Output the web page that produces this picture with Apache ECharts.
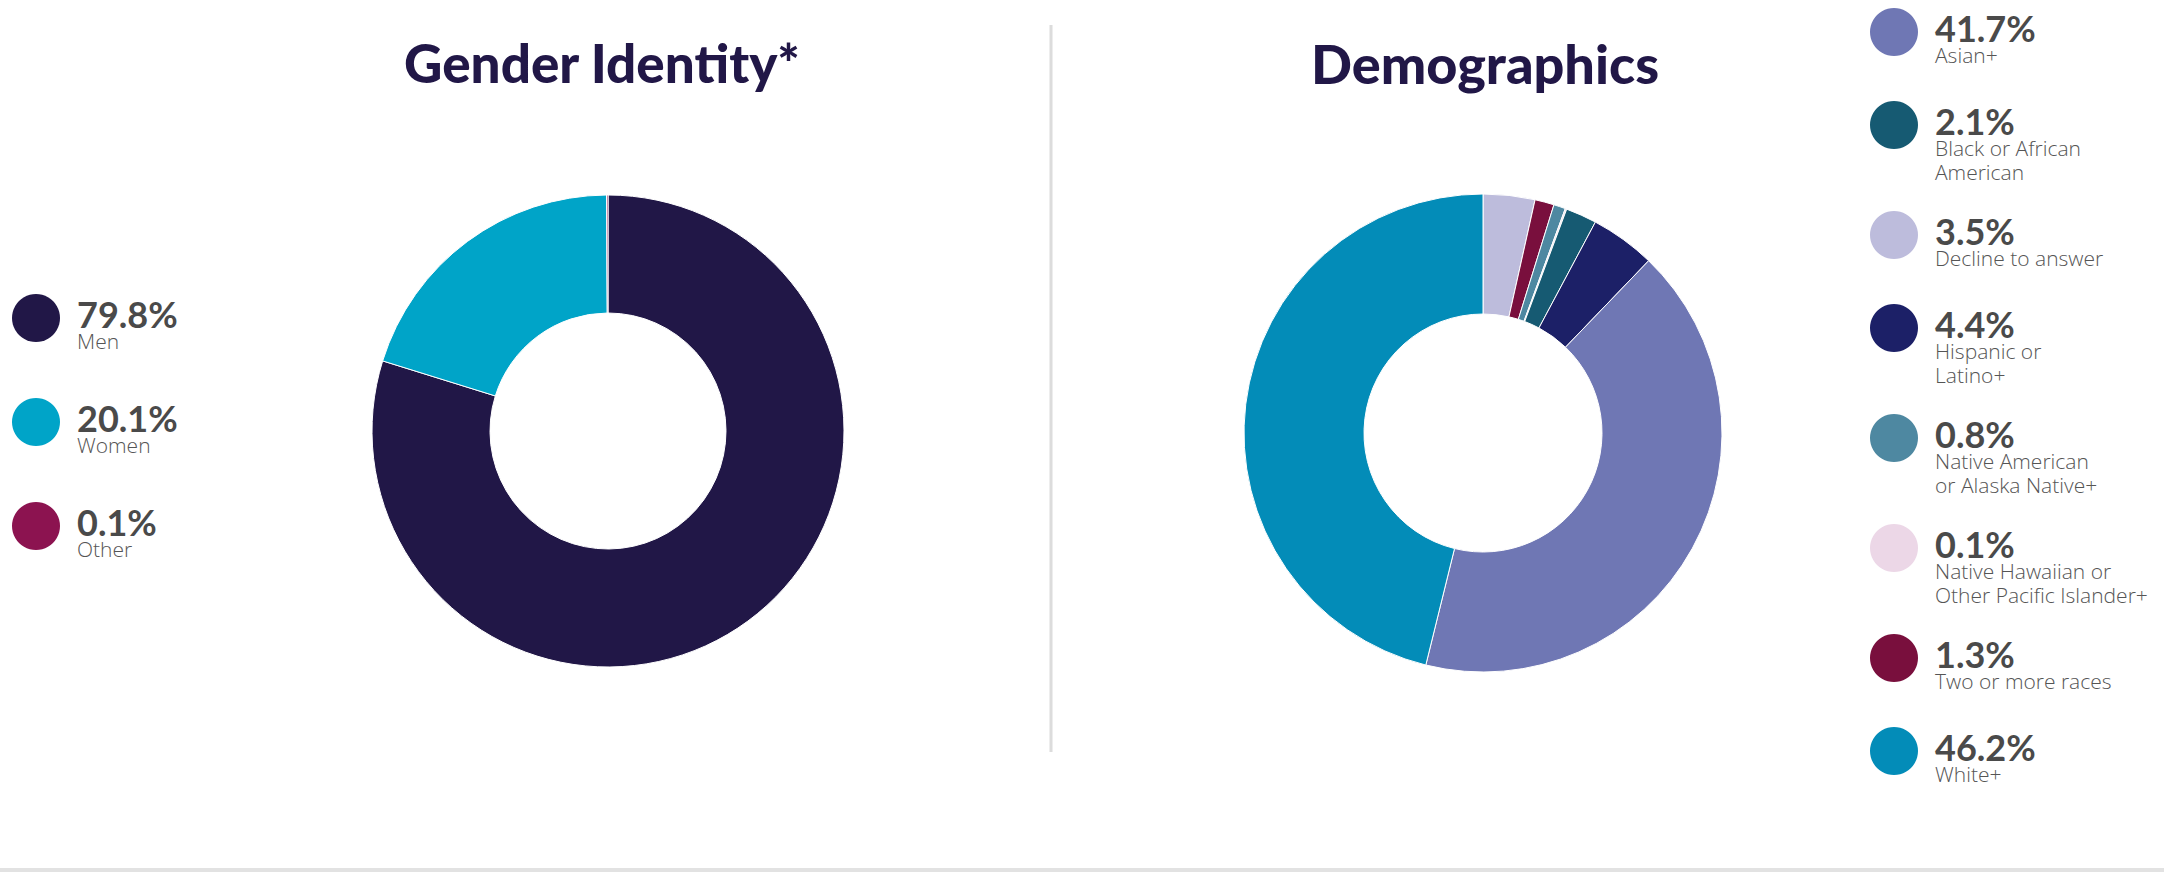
<!DOCTYPE html>
<html>
<head>
<meta charset="utf-8">
<script src="https://cdn.jsdelivr.net/npm/echarts@6/dist/echarts.min.js"></script>
<style>
html,body{margin:0;padding:0;background:#fff;}
#main{width:2164px;height:872px;}
</style>
</head>
<body>
<div id="main"></div>
<script>
// ---- data ----
const genderTitle = 'Gender Identity*';
const genderNames = ['Men', 'Women', 'Other'];
const genderValues = [79.8, 20.1, 0.1];
const genderColors = ['#211747', '#00a4c8', '#8c1350'];

const demoTitle = 'Demographics';
const demoNames = ['Asian+', 'Black or African\nAmerican', 'Decline to answer', 'Hispanic or\nLatino+',
  'Native American\nor Alaska Native+', 'Native Hawaiian or\nOther Pacific Islander+', 'Two or more races', 'White+'];
const demoValues = [41.7, 2.1, 3.5, 4.4, 0.8, 0.1, 1.3, 46.2];
const demoColors = ['#6f77b4', '#165a72', '#bdbcdc', '#1c2067', '#4e88a1', '#ecd7e7', '#790f3d', '#038cb8'];
// order of slices clockwise from 12 o'clock (indices into demo arrays)
const demoSliceOrder = [2, 6, 4, 5, 1, 3, 0, 7];

// ---- chart ----
const chart = echarts.init(document.getElementById('main'), null, {renderer: 'svg', width: 2164, height: 872});

const valueFont = 'Lato, "Open Sans", sans-serif';
const labelFont = '"Open Sans", Lato, sans-serif';

function legendGraphics(names, values, colors, circleX, startY, step1, step2) {
  const els = [];
  let y = startY;
  names.forEach((n, i) => {
    const lines = n.split('\n');
    els.push({type: 'circle', shape: {cx: circleX, cy: y, r: 24}, style: {fill: colors[i]}, silent: true});
    const txt = '{v|' + values[i].toFixed(1) + '%}\n' + lines.map(l => '{l|' + l + '}').join('\n');
    els.push({type: 'text', x: circleX + 41, y: y - 19, silent: true,
      style: {
        text: txt, verticalAlign: 'top', align: 'left',
        rich: {
          v: {fontFamily: valueFont, fontWeight: 'bold', fontSize: 36, lineHeight: 30, fill: '#4a4a4a', color: '#4a4a4a'},
          l: {fontFamily: labelFont, fontWeight: 300, fontSize: 21, lineHeight: 24, fill: '#555555', color: '#555555'}
        }
      }});
    y += (lines.length > 1 ? step2 : step1);
  });
  return els;
}

const graphics = [
  {type: 'line', shape: {x1: 1051, y1: 25, x2: 1051, y2: 752}, style: {stroke: '#dcdcdc', lineWidth: 3}, silent: true},
  {type: 'rect', shape: {x: 0, y: 868, width: 2164, height: 4}, style: {fill: '#e2e2e2'}, silent: true}
].concat(
  legendGraphics(genderNames, genderValues, genderColors, 36, 318, 104, 104),
  legendGraphics(demoNames, demoValues, demoColors, 1894, 32, 93, 110)
);

const titleStyle = {color: '#211747', fontFamily: 'Lato, sans-serif', fontWeight: 900, fontSize: 54};

chart.setOption({
  animation: false,
  title: [
    {text: genderTitle, left: 597, top: 31, textAlign: 'center', textStyle: Object.assign({}, titleStyle, {fontSize: 53})},
    {text: demoTitle, left: 1480, top: 31, textAlign: 'center', textStyle: titleStyle}
  ],
  series: [
    {
      type: 'pie', center: [608, 431], radius: [118, 236], startAngle: 90, clockwise: true,
      label: {show: false}, labelLine: {show: false}, emphasis: {disabled: true}, silent: true,
      itemStyle: {borderColor: '#ffffff', borderWidth: 1},
      data: genderNames.map((n, i) => ({name: n, value: genderValues[i], itemStyle: {color: genderColors[i]}}))
    },
    {
      type: 'pie', center: [1483, 433], radius: [119, 239], startAngle: 90, clockwise: true,
      label: {show: false}, labelLine: {show: false}, emphasis: {disabled: true}, silent: true,
      itemStyle: {borderColor: '#ffffff', borderWidth: 1},
      data: demoSliceOrder.map(i => ({name: demoNames[i].replace('\n', ' '), value: demoValues[i], itemStyle: {color: demoColors[i]}}))
    }
  ],
  graphic: graphics
});
</script>
</body>
</html>
